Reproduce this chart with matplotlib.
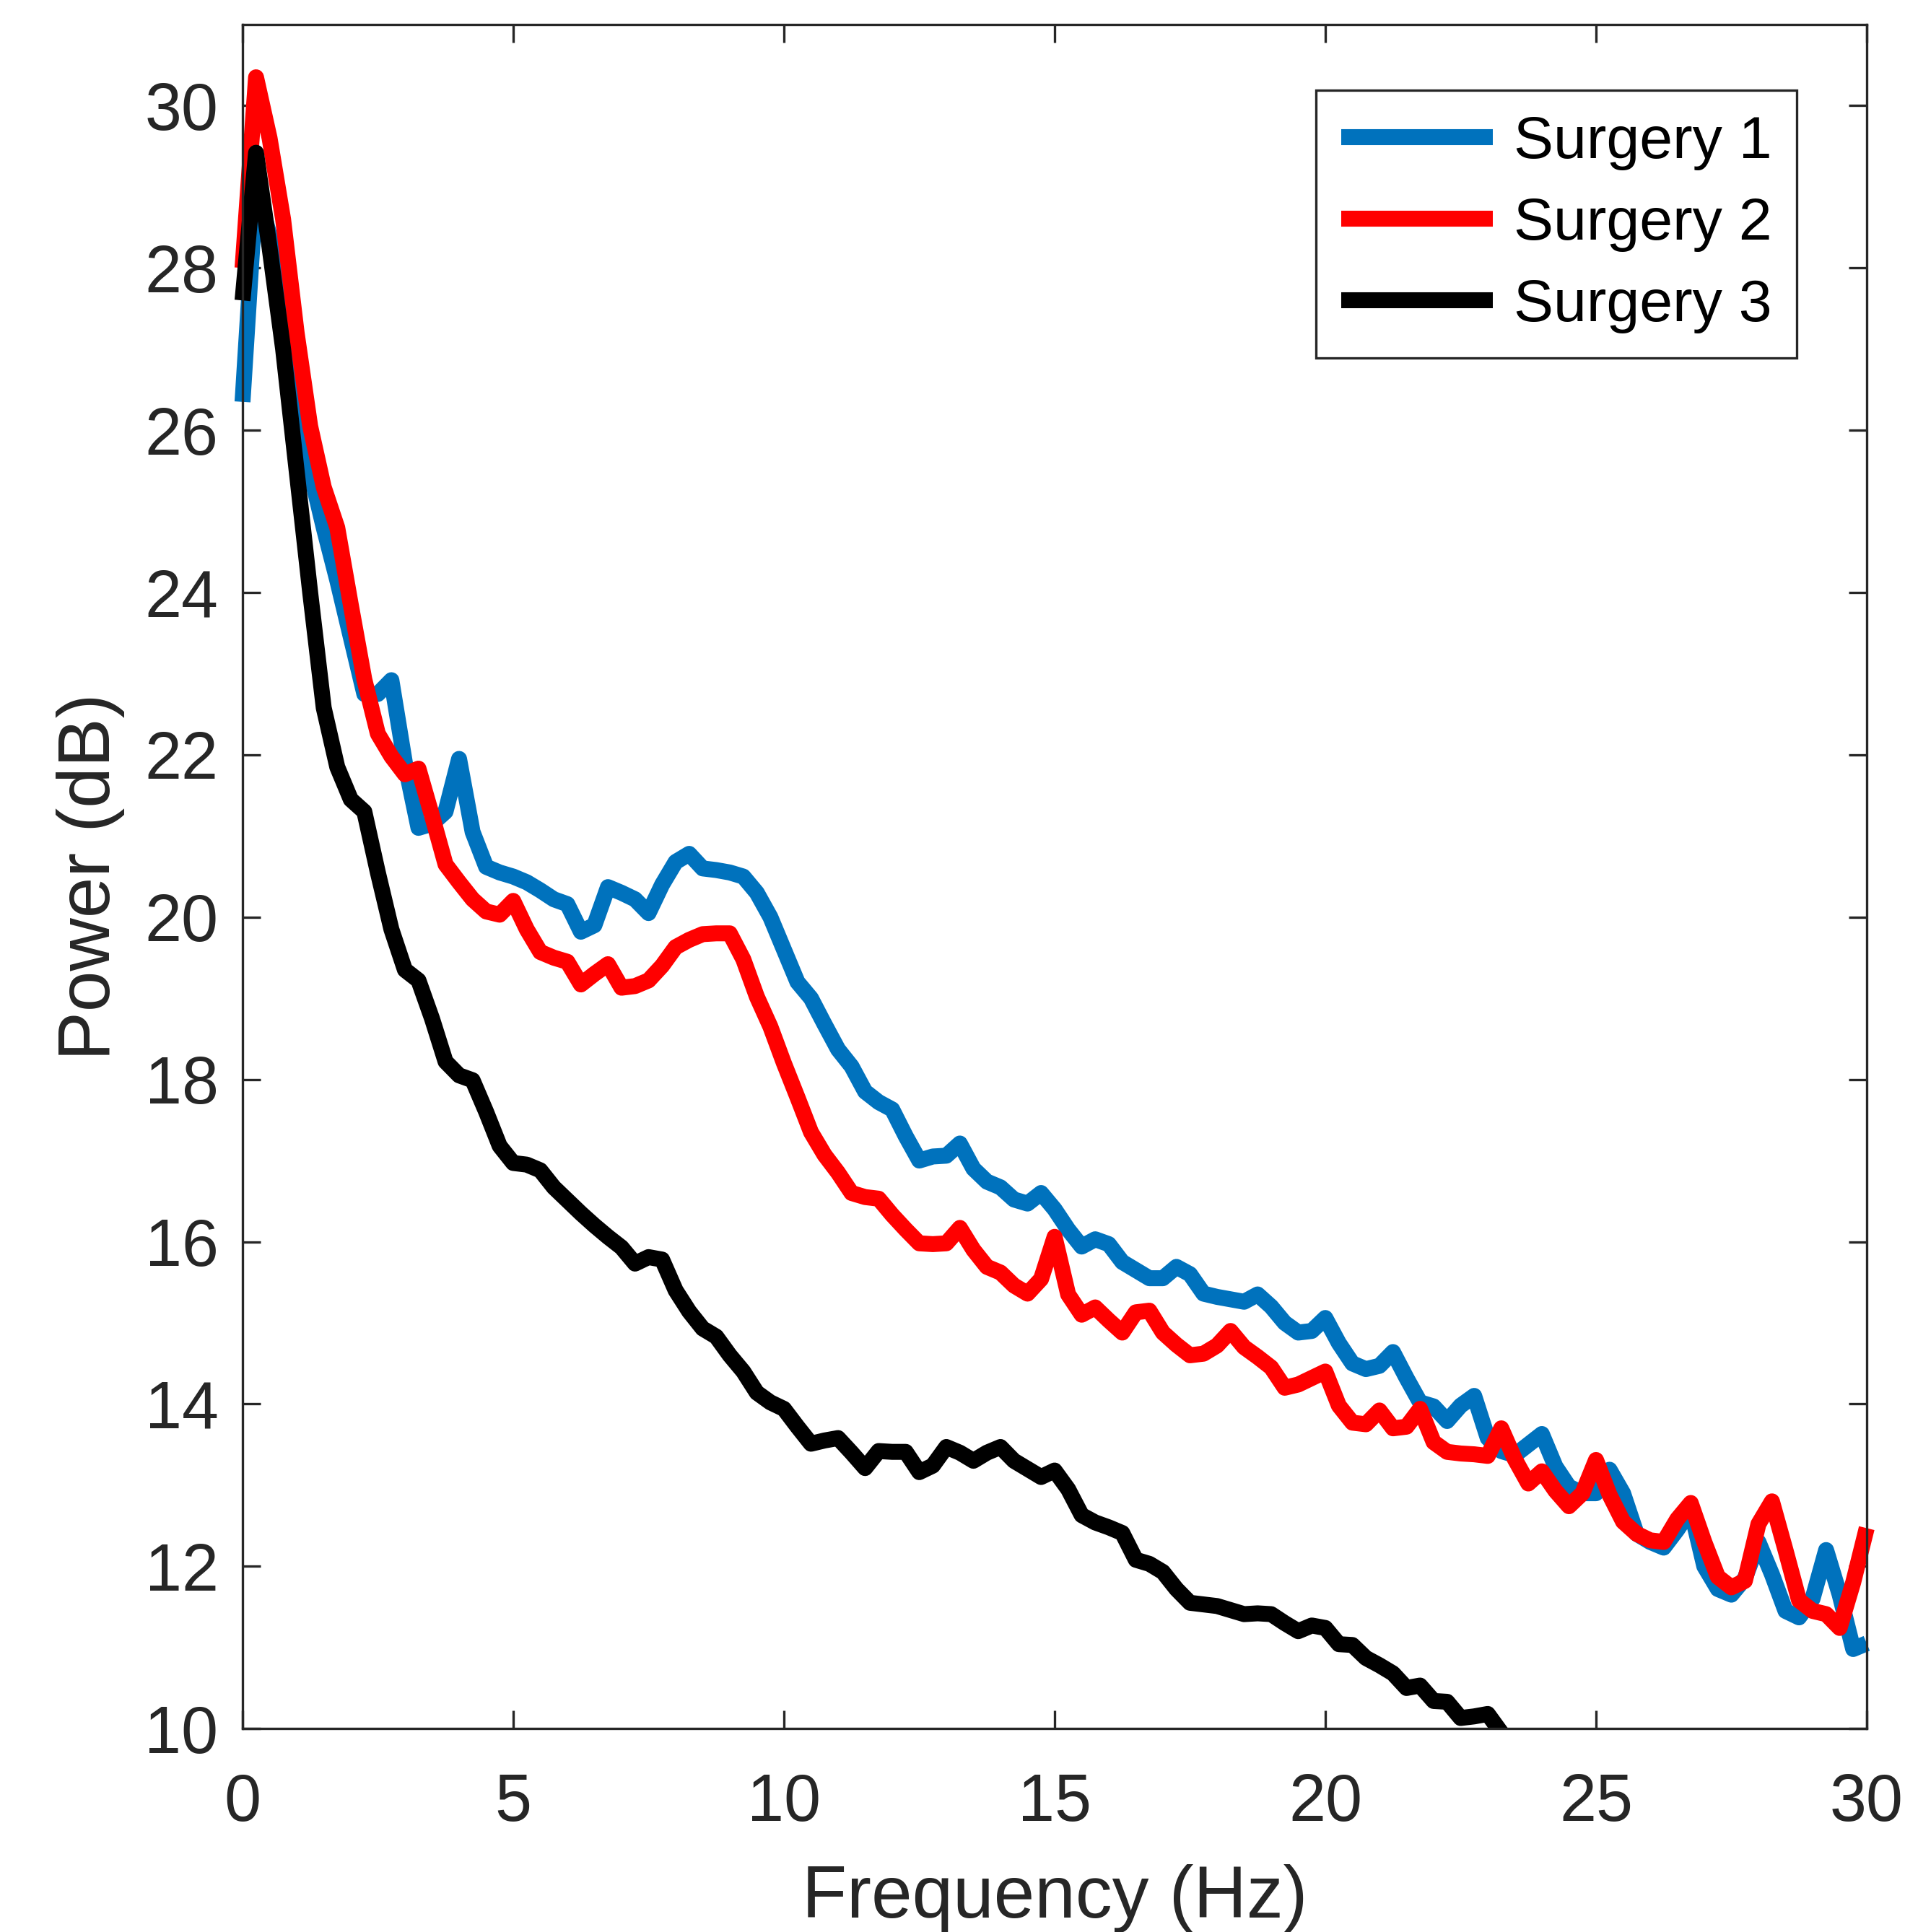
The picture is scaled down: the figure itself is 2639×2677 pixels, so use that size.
"""Power spectra (dB) for three surgeries, 0-30 Hz."""

import matplotlib
matplotlib.use("Agg")
import matplotlib.pyplot as plt
from matplotlib.patches import Rectangle
import numpy as np

plt.rcParams["font.family"] = ["Liberation Sans", "DejaVu Sans"]

# frequency grid of the spectra (0.25 Hz bins)
freq = np.arange(0, 30.001, 0.25)

surgery1 = [
    26.35, 29.0, 28.4, 27.5, 26.5, 25.5, 24.8, 24.15, 23.45, 22.75,
    22.75, 22.92, 21.9, 21.1, 21.15, 21.3, 21.95, 21.05, 20.62, 20.55,
    20.5, 20.43, 20.33, 20.22, 20.16, 19.82, 19.9, 20.37, 20.3, 20.22,
    20.05, 20.4, 20.68, 20.78, 20.6, 20.58, 20.55, 20.5, 20.3, 20.0,
    19.6, 19.2, 19.0, 18.68, 18.37, 18.16, 17.85, 17.72, 17.63, 17.3,
    17.0, 17.05, 17.06, 17.21, 16.9, 16.74, 16.67, 16.52, 16.47, 16.6,
    16.4, 16.15, 15.94, 16.03, 15.97, 15.75, 15.65, 15.55, 15.55, 15.69,
    15.6, 15.36, 15.32, 15.29, 15.26, 15.35, 15.2, 15.0, 14.88, 14.9,
    15.06, 14.75, 14.5, 14.43, 14.47, 14.64, 14.32, 14.02, 13.97, 13.79,
    13.98, 14.1, 13.58, 13.42, 13.37, 13.5, 13.63, 13.23, 12.98, 12.9,
    12.9, 13.19, 12.9, 12.4, 12.3, 12.23, 12.45, 12.7, 12.0, 11.72,
    11.65, 11.85, 12.3, 11.9, 11.45, 11.37, 11.6, 12.2, 11.65, 10.98,
    11.05,
]

surgery2 = [
    28.0, 30.35, 29.6, 28.6, 27.2, 26.05, 25.3, 24.8, 23.85, 22.93,
    22.26, 21.98, 21.76, 21.83, 21.25, 20.65, 20.43, 20.22, 20.07, 20.03,
    20.2, 19.85, 19.57, 19.5, 19.45, 19.17, 19.3, 19.42, 19.13, 19.15,
    19.22, 19.4, 19.63, 19.72, 19.79, 19.8, 19.8, 19.48, 19.02, 18.65,
    18.2, 17.78, 17.35, 17.07, 16.85, 16.6, 16.55, 16.53, 16.33, 16.15,
    15.98, 15.97, 15.98, 16.17, 15.9, 15.69, 15.62, 15.46, 15.36, 15.54,
    16.06, 15.35, 15.1, 15.19, 15.03, 14.88, 15.13, 15.15, 14.88, 14.73,
    14.6, 14.62, 14.72, 14.9, 14.7, 14.58, 14.45, 14.2, 14.24, 14.32,
    14.4, 13.98, 13.77, 13.75, 13.92, 13.7, 13.72, 13.94, 13.53, 13.41,
    13.39, 13.38, 13.36, 13.7, 13.32, 13.02, 13.17, 12.93, 12.74, 12.9,
    13.31, 12.88, 12.55, 12.4, 12.32, 12.3, 12.58, 12.78, 12.3, 11.87,
    11.74, 11.82, 12.52, 12.8, 12.2, 11.58, 11.45, 11.41, 11.24, 11.8,
    12.47,
]

# surgery 3 runs off the bottom of the axes just past 23 Hz
surgery3 = [
    27.6, 29.42, 28.25, 27.0, 25.5, 24.0, 22.58, 21.85, 21.45, 21.3,
    20.55, 19.85, 19.35, 19.22, 18.75, 18.22, 18.05, 17.99, 17.6, 17.18,
    16.97, 16.95, 16.88, 16.67, 16.51, 16.35, 16.2, 16.06, 15.93, 15.73,
    15.81, 15.78, 15.4, 15.14, 14.93, 14.83, 14.6, 14.4, 14.14, 14.02,
    13.94, 13.72, 13.51, 13.55, 13.58, 13.4, 13.21, 13.42, 13.41, 13.41,
    13.16, 13.24, 13.47, 13.4, 13.3, 13.4, 13.47, 13.3, 13.2, 13.1,
    13.18, 12.95, 12.63, 12.54, 12.48, 12.41, 12.08, 12.03, 11.93, 11.72,
    11.55, 11.53, 11.51, 11.46, 11.41, 11.42, 11.41, 11.3, 11.2, 11.27,
    11.24, 11.04, 11.03, 10.87, 10.78, 10.68, 10.5, 10.53, 10.34, 10.33,
    10.13, 10.15, 10.18, 9.95, 9.75,
]

labels = ["Surgery 1", "Surgery 2", "Surgery 3"]
colors = ["#0072BD", "#FF0000", "#000000"]
axis_col = "#262626"

fig = plt.figure(figsize=(2639 / 300, 2677 / 300), dpi=300)
ax = fig.add_axes([0.1273, 0.1053, 0.8526, 0.882])

# MATLAB-style clipping: line ends may poke past the left/right/top edges,
# but anything below the y floor is cut at the axis
clip = Rectangle((-0.05, 0), 1.1, 1.05, transform=ax.transAxes,
                 facecolor="none", edgecolor="none")
for y, lab, c in zip([surgery1, surgery2, surgery3], labels, colors):
    ln, = ax.plot(freq[:len(y)], y, color=c, lw=5.3, label=lab,
                  solid_capstyle="butt", solid_joinstyle="round")
    ln.set_clip_path(clip)

ax.set_xlim(0, 30)
ax.set_ylim(10, 31)
ax.set_xticks(range(0, 31, 5))
ax.set_yticks(range(10, 31, 2))
ax.tick_params(direction="in", length=6, width=0.8, colors=axis_col,
               labelsize=22, top=True, right=True)
ax.tick_params(axis="x", pad=14.5)
ax.tick_params(axis="y", pad=8)
for sp in ax.spines.values():
    sp.set_linewidth(0.8)
    sp.set_color(axis_col)

ax.set_xlabel("Frequency (Hz)", fontsize=24.4, color=axis_col, labelpad=10)
ax.set_ylabel("Power (dB)", fontsize=24.4, color=axis_col, labelpad=6.5)

leg = ax.legend(loc="upper right", bbox_to_anchor=(0.957, 0.9615),
                borderaxespad=0, fontsize=19.8, handlelength=2.55,
                handletextpad=0.35, labelspacing=0.45, borderpad=0.42,
                fancybox=False, framealpha=1)
leg.get_frame().set_edgecolor(axis_col)
leg.get_frame().set_linewidth(0.8)
for t in leg.get_texts():
    t.set_color("#000000")

fig.savefig("out.png", dpi=300, facecolor="white")
